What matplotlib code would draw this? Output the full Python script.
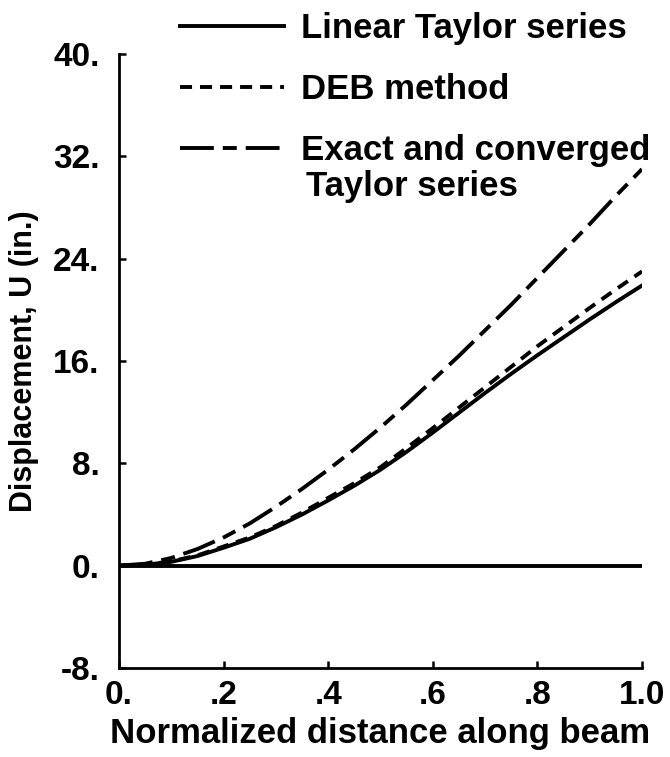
#displacement along a beam: linear Taylor series vs DEB method vs exact solution
import matplotlib.pyplot as plt
import numpy as np

plt.rcParams['font.family'] = ['Liberation Sans', 'DejaVu Sans']
plt.rcParams['font.weight'] = 'bold'

distance = [0, .05, .1, .15, .2, .25, .3, .35, .4, .45, .5,
            .55, .6, .65, .7, .75, .8, .85, .9, .95, 1.0]
linear_taylor = [0, .07, .3, .75, 1.4, 2.1, 3.0, 4.0, 5.1, 6.25, 7.5,
                 8.9, 10.4, 11.95, 13.5, 15.0, 16.45, 17.85, 19.25, 20.6, 21.9]
deb_method = [0, .08, .33, .8, 1.5, 2.2, 3.1, 4.15, 5.3, 6.45, 7.7,
              9.2, 10.75, 12.35, 13.95, 15.55, 17.15, 18.65, 20.15, 21.6, 23.0]
exact_converged = [0, .15, .6, 1.3, 2.2, 3.3, 4.6, 6.0, 7.5, 9.1, 10.8,
                   12.6, 14.5, 16.4, 18.4, 20.4, 22.5, 24.6, 26.7, 28.9, 31.0]
zero_line = [0, 0]

xticks = [0, .2, .4, .6, .8, 1.0]
xtick_labels = ['0.', '.2', '.4', '.6', '.8', '1.0']
yticks = [-8, 0, 8, 16, 24, 32, 40]
ytick_labels = ['-8.', '0.', '8.', '16.', '24.', '32.', '40.']

fig = plt.figure(figsize=(6.7, 7.57), dpi=100)
ax = fig.add_axes([0.1776, 0.1176, 0.7806, 0.8111])

lw = 2.8
l1, = ax.plot(distance, linear_taylor, color='black', lw=lw)
l2, = ax.plot(distance, deb_method, color='black', lw=lw, dashes=(3.1, 2.05))
l3, = ax.plot(distance, exact_converged, color='black', lw=lw,
              dashes=(8.7, 2.3, 3.6, 2.3))
ax.plot([0, 1.0], zero_line, color='black', lw=lw)

ax.set_xlim(0, 1.0)
ax.set_ylim(-8, 40)
ax.set_xticks(xticks)
ax.set_xticklabels(xtick_labels)
ax.set_yticks(yticks)
ax.set_yticklabels(ytick_labels)
ax.tick_params(direction='in', length=5, width=1.8, labelsize=24)
ax.tick_params(axis='y', pad=14)
ax.tick_params(axis='x', pad=9)
for s in ['top', 'right']:
    ax.spines[s].set_visible(False)
for s in ['left', 'bottom']:
    ax.spines[s].set_linewidth(2)

ax.set_xlabel('Normalized distance along beam', fontsize=25, fontweight='bold', labelpad=4)
ax.set_ylabel('Displacement, U (in.)', fontsize=22, fontweight='bold', labelpad=10)

fig.legend([l1, l2, l3], ['Linear Taylor series', 'DEB method', 'Exact and converged'],
           loc='upper left', bbox_to_anchor=(0.2687, 0.984), frameon=False,
           fontsize=25, handlelength=3.0, handletextpad=0.49, labelspacing=0.8,
           borderpad=0, borderaxespad=0)
fig.text(306 / 670, 1 - 196 / 757, 'Taylor series', fontsize=25, fontweight='bold',
         va='baseline', ha='left')

fig.savefig('out.png', dpi=100)
